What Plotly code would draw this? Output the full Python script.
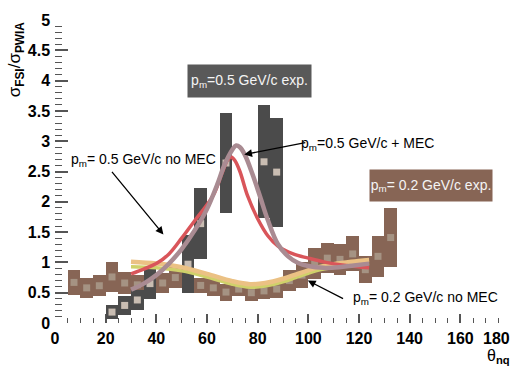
import plotly.graph_objects as go

# ---- measured ratios, p_m = 0.2 GeV/c (bin centre, ratio, half-height of error box) ----
theta_lo = [7.5, 12.5, 17.5, 22.5, 27.5, 32.5, 37.5, 42.5, 47.5, 52.5, 57.5, 62.5, 67.5,
            72.5, 77.5, 82.5, 87.5, 92.5, 97.5, 102.5, 107.5, 112.5, 117.5, 122.5, 127.5, 132.5]
ratio_lo = [0.67, 0.58, 0.615, 0.76, 0.66, 0.63, 0.65, 0.66, 0.75, 0.70, 0.62, 0.58, 0.51,
            0.56, 0.50, 0.53, 0.56, 0.70, 0.79, 0.98, 1.07, 1.05, 1.14, 0.88, 1.10, 1.41]
err_lo = [0.20, 0.17, 0.17, 0.25, 0.18, 0.17, 0.17, 0.17, 0.17, 0.17, 0.13, 0.14, 0.14,
          0.12, 0.14, 0.13, 0.15, 0.18, 0.22, 0.25, 0.25, 0.25, 0.29, 0.22, 0.34, 0.49]

# ---- measured ratios, p_m = 0.5 GeV/c ----
theta_hi = [22.5, 27.5, 32.5, 37.5, 52.5, 57.5, 67.5, 82.5, 87.5]
ratio_hi = [0.18, 0.29, 0.38, 0.65, 0.97, 1.64, 2.64, 2.66, 2.49]
err_hi = [0.12, 0.15, 0.17, 0.26, 0.48, 0.58, 0.82, 0.93, 0.90]

# ---- calculations ----
theta_nomec_hi = [30, 35, 40, 45, 50, 55, 60, 63, 66, 68, 69.5, 71, 73, 76, 80, 84, 88,
                  94, 100, 107, 115, 124]
ratio_nomec_hi = [0.81, 0.89, 0.98, 1.14, 1.40, 1.68, 1.95, 2.15, 2.48, 2.68, 2.74, 2.68,
                  2.50, 2.10, 1.72, 1.44, 1.27, 1.14, 1.07, 1.00, 0.95, 0.91]

theta_mec_hi = [30, 35, 40, 45, 50, 55, 60, 64, 67, 70, 71.5, 73, 75, 78, 81, 84, 88, 92,
                96, 100, 106, 112, 118, 124]
ratio_mec_hi = [0.55, 0.65, 0.79, 0.98, 1.22, 1.52, 1.88, 2.28, 2.62, 2.86, 2.93, 2.90,
                2.77, 2.45, 2.08, 1.70, 1.30, 1.10, 0.99, 0.94, 0.91, 0.92, 0.95, 0.98]

theta_lo_calc = [30, 40, 50, 60, 70, 77, 83, 90, 95, 100, 105, 110, 117, 124]
ratio_mec_lo = [1.01, 0.98, 0.92, 0.81, 0.69, 0.64, 0.66, 0.73, 0.80, 0.87, 0.93, 0.97, 1.01, 1.04]
ratio_nomec_lo = [0.93, 0.91, 0.86, 0.76, 0.64, 0.59, 0.61, 0.68, 0.75, 0.82, 0.88, 0.92, 0.96, 0.99]

x_ticks = [0, 20, 40, 60, 80, 100, 120, 140, 160, 180]
x_tick_text = ["0", "20", "40", "60", "80", "100", "120", "140", "160", ""]

BROWN = "#876555"
DARK = "#4b4b4b"
FONT = "Liberation Sans"

fig = go.Figure()

# error boxes drawn as floating bars
fig.add_trace(go.Bar(
    x=theta_lo, y=[2 * e for e in err_lo], base=[r - e for r, e in zip(ratio_lo, err_lo)],
    width=5, marker=dict(color=BROWN, line=dict(width=0)), zorder=0, hoverinfo="skip"))
fig.add_trace(go.Scatter(
    x=theta_lo, y=ratio_lo, mode="markers", zorder=1,
    marker=dict(symbol="square", size=7, color="#a59383", line=dict(width=0))))
fig.add_trace(go.Bar(
    x=theta_hi, y=[2 * e for e in err_hi], base=[r - e for r, e in zip(ratio_hi, err_hi)],
    width=5, marker=dict(color=DARK, line=dict(width=0)), zorder=2, hoverinfo="skip"))
fig.add_trace(go.Scatter(
    x=theta_hi, y=ratio_hi, mode="markers", zorder=3,
    marker=dict(symbol="square", size=7, color="#c9bdb2", line=dict(width=0))))

# theory curves
fig.add_trace(go.Scatter(x=theta_lo_calc, y=ratio_nomec_lo, mode="lines", zorder=4,
                         line=dict(color="#cfd16a", width=3.5, shape="spline")))
fig.add_trace(go.Scatter(x=theta_lo_calc, y=ratio_mec_lo, mode="lines", zorder=5,
                         line=dict(color="#ebc184", width=4.5, shape="spline")))
fig.add_trace(go.Scatter(x=theta_nomec_hi, y=ratio_nomec_hi, mode="lines", zorder=6,
                         line=dict(color="#d9555a", width=3.5, shape="spline")))
fig.add_trace(go.Scatter(x=theta_mec_hi, y=ratio_mec_hi, mode="lines", zorder=7,
                         line=dict(color="#a98b92", width=4.5, shape="spline")))

txt = dict(family=FONT, size=14, color="black")
annotations = [
    # boxed labels
    dict(x=76.9, y=3.99, xref="x", yref="y", text="p<sub>m</sub>=0.5 GeV/c exp.",
         showarrow=False, bgcolor="#595959", width=121, height=30,
         font=dict(family=FONT, size=14, color="#f4f4f4")),
    dict(x=148.5, y=2.265, xref="x", yref="y", text="p<sub>m</sub>= 0.2 GeV/c exp.",
         showarrow=False, bgcolor=BROWN, width=120, height=29,
         font=dict(family=FONT, size=14, color="#f4f4f4")),
    # curve labels
    dict(x=35, y=2.69, xref="x", yref="y", text="p<sub>m</sub>= 0.5 GeV/c no MEC",
         showarrow=False, font=txt),
    dict(x=96.3, y=2.96, xref="x", yref="y", xanchor="left",
         text="p<sub>m</sub>=0.5 GeV/c + MEC", showarrow=False, font=txt),
    dict(x=116.8, y=0.42, xref="x", yref="y", xanchor="left",
         text="p<sub>m</sub>= 0.2 GeV/c no MEC", showarrow=False, font=txt),
    # arrows
    dict(x=42.8, y=1.46, ax=22.0, ay=2.52, xref="x", yref="y", axref="x", ayref="y",
         text="", showarrow=True, arrowhead=2, arrowsize=1.2, arrowwidth=1.3, arrowcolor="black"),
    dict(x=74.7, y=2.78, ax=99.4, ay=2.98, xref="x", yref="y", axref="x", ayref="y",
         text="", showarrow=True, arrowhead=2, arrowsize=1.2, arrowwidth=1.3, arrowcolor="black"),
    dict(x=99.8, y=0.70, ax=114.3, ay=0.39, xref="x", yref="y", axref="x", ayref="y",
         text="", showarrow=True, arrowhead=2, arrowsize=1.2, arrowwidth=1.3, arrowcolor="black"),
    # last x tick label sits flush with the frame
    dict(x=1.0, y=-0.019, xref="paper", yref="paper", xanchor="right", yanchor="top",
         text="<b>180</b>", showarrow=False, borderpad=0,
         font=dict(family=FONT, size=16, color="black")),
    # axis titles
    dict(x=-0.085, y=1.003, xref="paper", yref="paper", xanchor="center", yanchor="top",
         textangle=-90,
         text="σ<sub><b>FSI</b></sub>/σ<sub><b>PWIA</b></sub>", showarrow=False,
         font=dict(family=FONT, size=17, color="black")),
    dict(x=1.0, y=-0.076, xref="paper", yref="paper", xanchor="right", yanchor="top",
         text="θ<sub><b>nq</b></sub>", showarrow=False, borderpad=0,
         font=dict(family=FONT, size=16, color="black")),
]

fig.update_layout(
    width=525, height=367,
    margin=dict(l=55, r=12, t=14, b=44),
    paper_bgcolor="white", plot_bgcolor="white",
    showlegend=False, barmode="overlay", bargap=0,
    annotations=annotations,
)
fig.update_xaxes(
    range=[0, 180], tickvals=x_ticks, ticktext=x_tick_text, ticks="inside", ticklen=9,
    tickwidth=1.5, tickcolor="#555555", showline=True, linecolor="black", linewidth=1.5,
    mirror=True, showgrid=False, zeroline=False,
    tickfont=dict(family=FONT, size=16, color="black", weight="bold"),
    minor=dict(dtick=5, ticks="inside", ticklen=5, tickwidth=1.2, tickcolor="#555555"),
)
fig.update_yaxes(
    range=[0, 5], dtick=0.5, ticks="inside", ticklen=13, tickwidth=1.5,
    tickcolor="#555555", showline=True, linecolor="black", linewidth=1.5, mirror=True,
    showgrid=False, zeroline=False,
    tickfont=dict(family=FONT, size=16, color="black", weight="bold"),
    minor=dict(dtick=0.1, ticks="inside", ticklen=7, tickwidth=1.2, tickcolor="#555555"),
)

fig.write_html("out.html")
